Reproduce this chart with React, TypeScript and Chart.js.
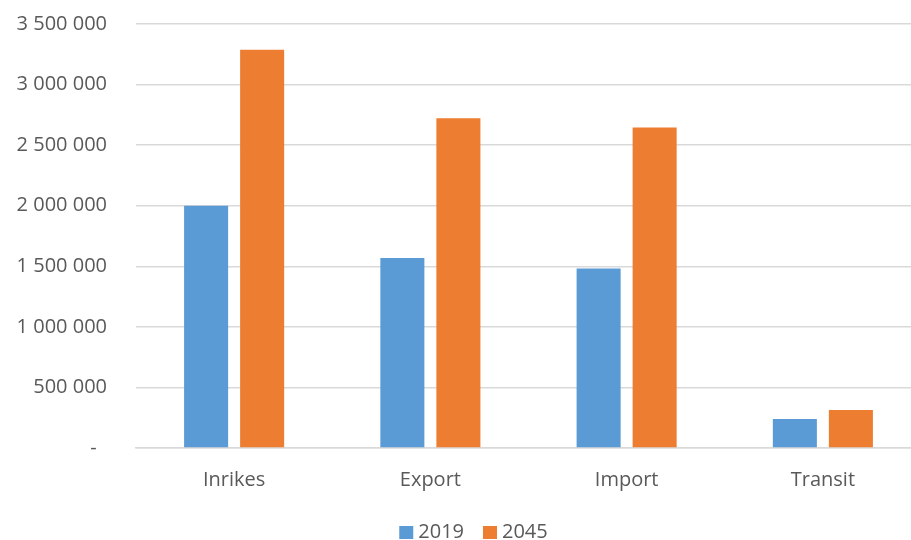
import React, { useEffect, useRef } from "react";
import { Chart, registerables } from "chart.js";

Chart.register(...registerables);

const categories = ["Inrikes", "Export", "Import", "Transit"];
const series2019 = [2000000, 1568000, 1482000, 240000];
const series2045 = [3287000, 2722000, 2646000, 314000];
const seriesLabels = ["2019", "2045"];
const seriesColors = ["#5B9BD5", "#ED7D31"];
const yMax = 3500000;
const yStep = 500000;

const FONT_FAMILY = "'Open Sans', sans-serif";
const TEXT_COLOR = "#595959";

function fmt(v: number): string {
  if (v === 0) return "-  ";
  return Math.round(v)
    .toString()
    .replace(/\B(?=(\d{3})+(?!\d))/g, " ");
}

const customLegend = {
  id: "customLegend",
  afterDraw(chart: any) {
    const ctx = chart.ctx;
    ctx.save();
    ctx.font = `20px ${FONT_FAMILY}`;
    ctx.textBaseline = "middle";
    ctx.textAlign = "left";
    const box = 14;
    const gapText = 5;
    const gapItem = 19;
    const items = chart.data.datasets.map((d: any) => ({
      label: d.label,
      color: d.backgroundColor,
      w: ctx.measureText(d.label).width,
    }));
    let total = 0;
    items.forEach((it: any, i: number) => {
      total += box + gapText + it.w + (i > 0 ? gapItem : 0);
    });
    const cx = 473.5;
    const cy = 532.5;
    let x = cx - total / 2;
    items.forEach((it: any) => {
      ctx.fillStyle = it.color;
      ctx.fillRect(x, cy - 6.5, box, 13);
      x += box + gapText;
      ctx.fillStyle = TEXT_COLOR;
      ctx.fillText(it.label, x, cy);
      x += it.w + gapItem;
    });
    ctx.restore();
  },
};

export default function App() {
  const ref = useRef<HTMLCanvasElement | null>(null);
  useEffect(() => {
    if (!ref.current) return;
    const font = { family: FONT_FAMILY, size: 20 };
    const chart = new Chart(ref.current, {
      type: "bar",
      data: {
        labels: categories,
        datasets: [
          { label: seriesLabels[0], data: series2019, backgroundColor: seriesColors[0] },
          { label: seriesLabels[1], data: series2045, backgroundColor: seriesColors[1] },
        ],
      },
      plugins: [customLegend],
      options: {
        animation: false,
        responsive: false,
        maintainAspectRatio: false,
        layout: { padding: { top: 24, left: 0, right: 0, bottom: 28 } },
        datasets: {
          bar: { categoryPercentage: 0.571, barPercentage: 0.786 },
        },
        plugins: {
          legend: { display: false },
          tooltip: { enabled: false },
        },
        scales: {
          x: {
            grid: { display: false, drawTicks: false },
            border: { display: true, color: "#D9D9D9", width: 1.5 },
            ticks: { color: TEXT_COLOR, font, padding: 20 },
            afterFit: (s: any) => {
              s.height = 64;
            },
          },
          y: {
            min: 0,
            max: yMax,
            grid: { color: "#D9D9D9", lineWidth: 1.5, drawTicks: false },
            border: { display: false },
            ticks: {
              stepSize: yStep,
              color: TEXT_COLOR,
              font,
              padding: 29,
              callback: (v: any) => fmt(Number(v)),
            },
            afterFit: (s: any) => {
              s.width = 136;
              s.paddingTop = 12;
              s.paddingBottom = 12;
            },
          },
        },
      },
    });
    return () => chart.destroy();
  }, []);
  return (
    <div
      style={{
        position: "fixed",
        left: 0,
        top: 0,
        width: 911,
        height: 540,
        overflow: "hidden",
        background: "#fff",
      }}
    >
      <canvas ref={ref} width={921} height={540} style={{ width: 921, height: 540, display: "block" }} />
    </div>
  );
}
